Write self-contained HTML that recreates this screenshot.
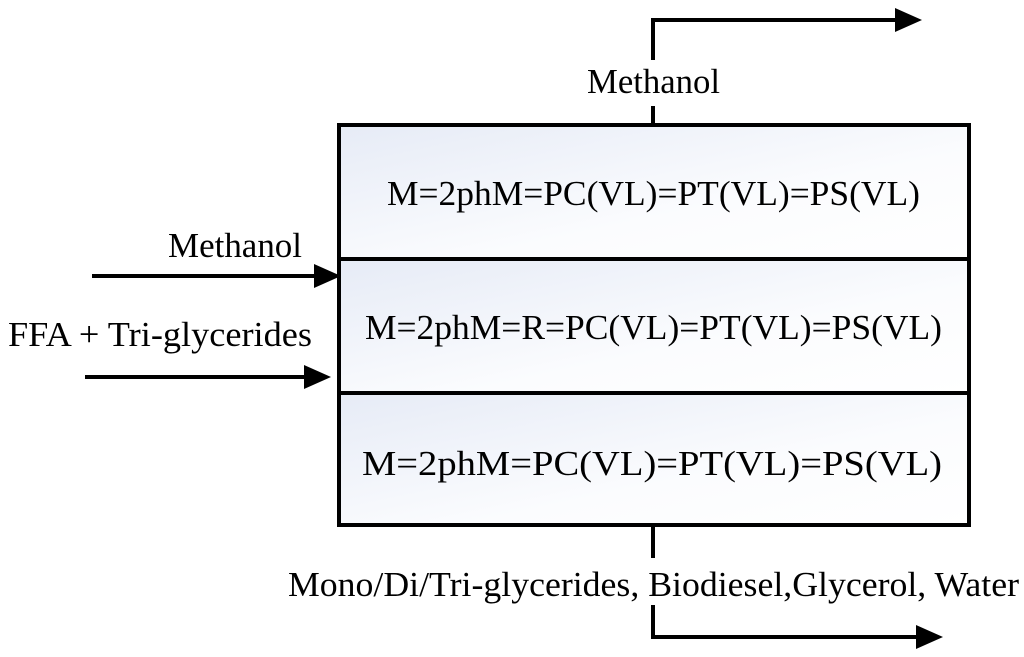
<!DOCTYPE html>
<html><head><meta charset="utf-8"><style>
html,body{margin:0;padding:0;background:#fff;}
svg{display:block;}
text{font-family:"Liberation Serif",serif;font-size:35px;fill:#000;}
</style></head><body>
<svg width="1024" height="657" viewBox="0 0 1024 657">
<defs>
<linearGradient id="g" x1="0" y1="0" x2="1" y2="1">
<stop offset="0" stop-color="#e6ebf6"/><stop offset="0.6" stop-color="#fbfcfe"/><stop offset="1" stop-color="#ffffff"/>
</linearGradient>
</defs>
<rect x="339" y="125" width="630" height="134" fill="url(#g)"/>
<rect x="339" y="259" width="630" height="134" fill="url(#g)"/>
<rect x="339" y="393" width="630" height="132" fill="url(#g)"/>
<rect x="339" y="125" width="630" height="400" fill="none" stroke="#000" stroke-width="4"/>
<line x1="339" y1="259" x2="969" y2="259" stroke="#000" stroke-width="4"/>
<line x1="339" y1="393" x2="969" y2="393" stroke="#000" stroke-width="4"/>
<g stroke="#000" stroke-width="4" fill="none">
<polyline points="653,60 653,20 897,20"/>
<line x1="653" y1="106" x2="653" y2="125"/>
<line x1="653" y1="525" x2="653" y2="558"/>
<polyline points="653,605 653,637 918,637"/>
<line x1="92" y1="276" x2="318" y2="276"/>
<line x1="85" y1="377" x2="308" y2="377"/>
</g>
<g fill="#000">
<polygon points="895,8 922,20 895,32"/>
<polygon points="916,625 943,637 916,649"/>
<polygon points="314,264 341,276 314,288"/>
<polygon points="304,365 331,377 304,389"/>
</g>
<text x="587" y="93" textLength="133" lengthAdjust="spacingAndGlyphs">Methanol</text>
<text x="168" y="257" textLength="134" lengthAdjust="spacingAndGlyphs">Methanol</text>
<text x="8" y="346" textLength="304" lengthAdjust="spacingAndGlyphs">FFA + Tri-glycerides</text>
<text x="387" y="205" textLength="533" lengthAdjust="spacingAndGlyphs">M=2phM=PC(VL)=PT(VL)=PS(VL)</text>
<text x="365" y="339" textLength="577" lengthAdjust="spacingAndGlyphs">M=2phM=R=PC(VL)=PT(VL)=PS(VL)</text>
<text x="362" y="475" textLength="580" lengthAdjust="spacingAndGlyphs">M=2phM=PC(VL)=PT(VL)=PS(VL)</text>
<text x="288" y="596" textLength="731" lengthAdjust="spacingAndGlyphs">Mono/Di/Tri-glycerides, Biodiesel,Glycerol, Water</text>
</svg>
</body></html>
